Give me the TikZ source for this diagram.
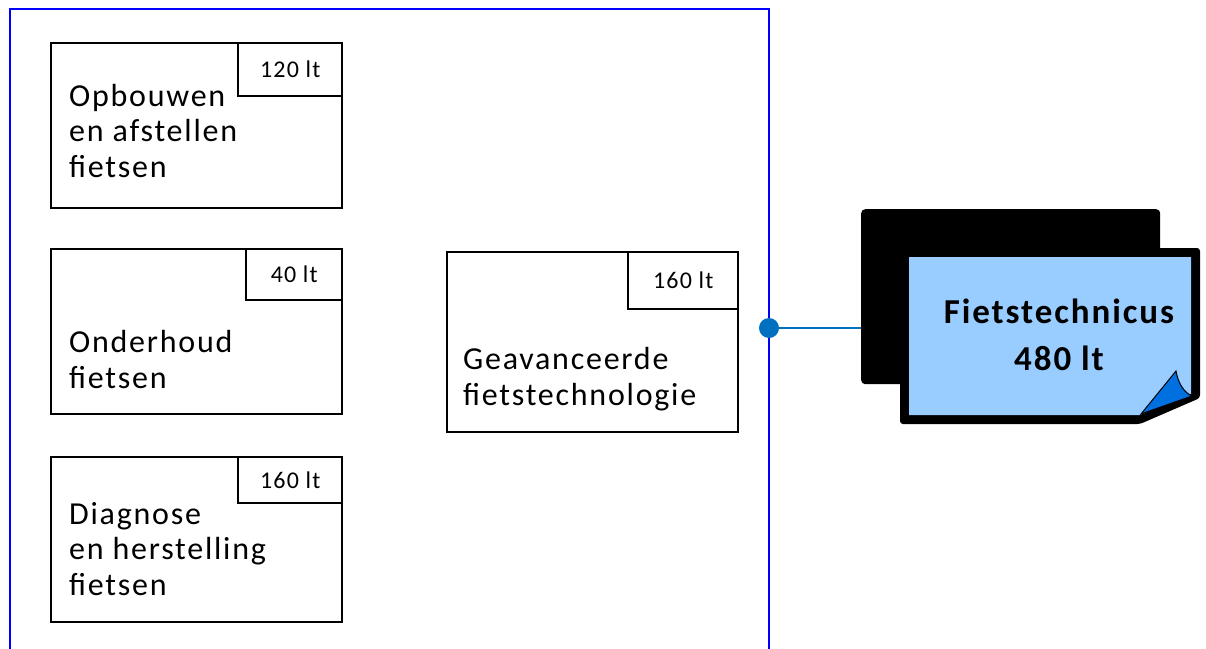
\documentclass[tikz,border=0pt]{standalone}
\usepackage{fontspec}
\setmainfont{Carlito}
\newfontfamily\bodyfont[LetterSpace=5.5]{Carlito}
\newfontfamily\hoursfont[LetterSpace=5]{Carlito}
\newfontfamily\titlefont[LetterSpace=5.5]{Carlito}
\definecolor{frameblue}{RGB}{0,0,255}
\definecolor{dotblue}{RGB}{0,112,192}
\definecolor{lightblue}{RGB}{153,204,255}
\definecolor{curlblue}{RGB}{0,112,224}
\begin{document}
\begin{tikzpicture}[x=1pt,y=-1pt,
  module/.style={draw=black,line width=2.4pt,fill=white,inner sep=0pt,anchor=north west},
  hours/.style={draw=black,line width=2.4pt,fill=white,inner sep=0pt,anchor=north east,font=\hoursfont\fontsize{24}{28}\selectfont},
  body/.style={anchor=base west,align=left,inner sep=0pt,font=\bodyfont\fontsize{32}{35.5}\selectfont}]
\useasboundingbox (0,0) rectangle (1206,648);
\draw[frameblue,line width=2pt] (10,649) -- (10,9) -- (769,9) -- (769,649);
% modules
\node[module,minimum width=291,minimum height=165] (m1) at (50,42) {};
\node[hours,minimum width=104,minimum height=53] (h1) at (m1.north east) {120 lt};
\node[body] (t1) at (69,177) {Opbouwen\\en afstellen\\fietsen};
\node[module,minimum width=291,minimum height=165] (m2) at (50,248) {};
\node[hours,minimum width=96,minimum height=51] (h2) at (m2.north east) {40 lt};
\node[body] (t2) at (69,388) {Onderhoud\\fietsen};
\node[module,minimum width=291,minimum height=165] (m3) at (50,456) {};
\node[hours,minimum width=104,minimum height=46] (h3) at (m3.north east) {160 lt};
\node[body] (t3) at (69,595) {Diagnose\\en herstelling\\fietsen};
\node[module,minimum width=291,minimum height=180] (m4) at (446,251) {};
\node[hours,minimum width=110,minimum height=57] (h4) at (m4.north east) {160 lt};
\node[body] (t4) at (463,405) {Geavanceerde\\fietstechnologie};
% qualification
\coordinate (dot) at (769,328);
\node[fill=black,rounded corners=4,minimum width=299,minimum height=175,anchor=north west,inner sep=0pt] (back) at (861,209) {};
\draw[dotblue,line width=2pt] (dot) -- (dot -| back.west);
\fill[dotblue] (dot) circle (10);
\fill[black,rounded corners=3] (900,248) -- (1200,248) -- (1200,398) -- (1140,424) -- (900,424) -- cycle;
\fill[lightblue] (909,257) -- (1191,257) -- (1191,394) -- (1140,415) -- (909,415) -- cycle;
\filldraw[fill=curlblue,draw=black,line width=1pt] (1141,414) -- (1176,371) .. controls (1178,382) and (1183,392) .. (1192,396) -- cycle;
\node[font=\titlefont\bfseries\fontsize{35}{47}\selectfont,align=center,inner sep=0pt,anchor=base] (ft) at (1059,370) {Fietstechnicus\\480 lt};
\end{tikzpicture}
\end{document}
